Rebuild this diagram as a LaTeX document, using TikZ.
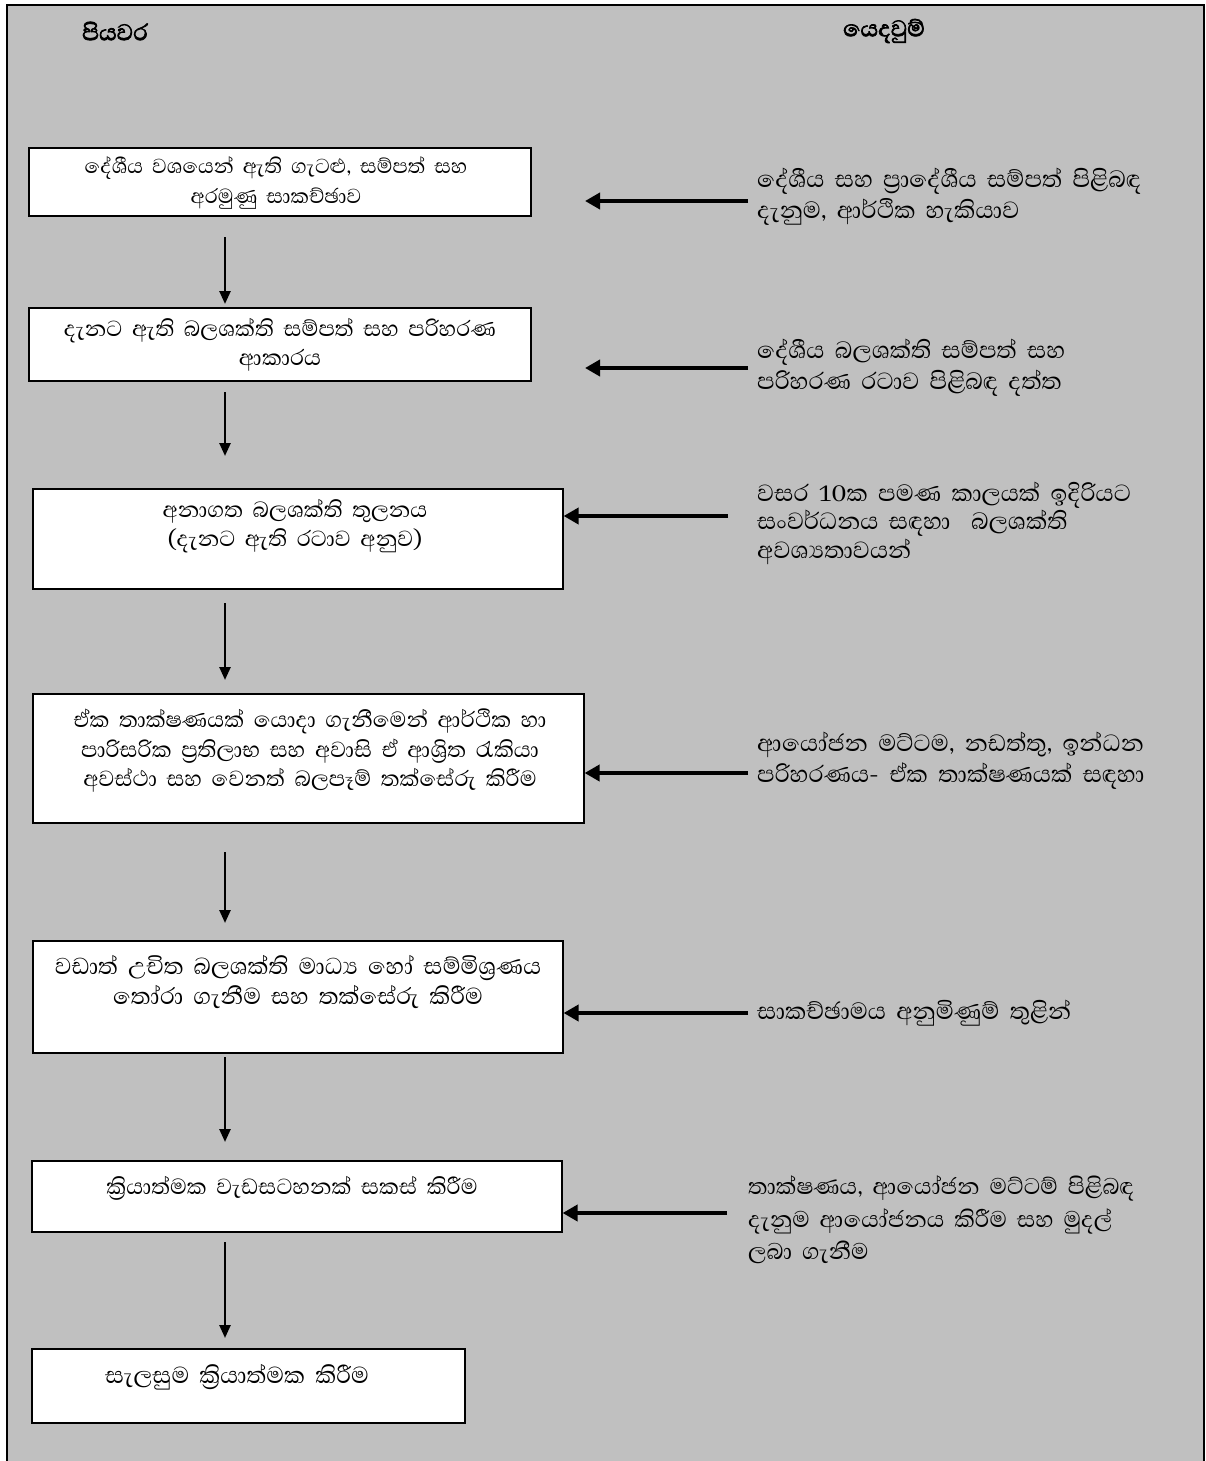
\documentclass[tikz,border=0pt]{standalone}
\usepackage{fontspec}
\usetikzlibrary{arrows.meta}
\newfontfamily\sinfont[Script=Sinhala,WordSpace=1.8]{Abhaya Libre}
\newfontfamily\sinhead[Script=Sinhala,FakeBold=2.5]{Abhaya Libre}
\definecolor{panelgray}{HTML}{C0C0C0}
\begin{document}
\begin{tikzpicture}[x=1pt,y=-1pt,
  panel/.style={draw=black,fill=panelgray,line width=2.5pt},
  stepbox/.style={draw=black,fill=white,line width=1.6pt,inner sep=0pt,anchor=north west},
  steptext/.style={font=\sinfont\fontsize{#1}{29.5}\selectfont,align=center,inner sep=0pt},
  inputtext/.style={font=\sinfont\fontsize{#1}{31}\selectfont,align=left,anchor=west,inner sep=0pt},
  headtext/.style={font=\sinhead\fontsize{29}{30}\selectfont,inner sep=0pt},
  flowarrow/.style={line width=2.5pt,-{Triangle[length=13pt,width=11pt]}},
  inarrow/.style={line width=4pt,-{Triangle[length=15pt,width=16pt]}}]
\useasboundingbox (0,0) rectangle (1205,1461);
\clip (0,0) rectangle (1205,1461);
\draw[panel] (7,5) rectangle (1204,1520);

% headings
\node[headtext] (h1) at (115,31) {පියවර};
\node[headtext] (h2) at (884,31) {යෙදවුම්};

% step boxes
\node[stepbox,minimum width=502pt,minimum height=68pt] (b1) at (28,147) {};
\node[stepbox,minimum width=502pt,minimum height=73pt] (b2) at (28,307) {};
\node[stepbox,minimum width=530pt,minimum height=100pt] (b3) at (32,488) {};
\node[stepbox,minimum width=551pt,minimum height=129pt] (b4) at (32,693) {};
\node[stepbox,minimum width=530pt,minimum height=112pt] (b5) at (32,940) {};
\node[stepbox,minimum width=530pt,minimum height=71pt] (b6) at (31,1160) {};
\node[stepbox,minimum width=433pt,minimum height=74pt] (b7) at (31,1348) {};

% step texts
\node[steptext=26] (t1) at (276,183) {දේශීය වශයෙන් ඇති ගැටළු, සම්පත් සහ\\අරමුණු සාකච්ඡාව};
\node[steptext=28] (t2) at (280,345) {දැනට ඇති බලශක්ති සම්පත් සහ පරිහරණ\\ආකාරය};
\node[steptext=28] (t3) at (295,526) {අනාගත බලශක්ති තුලනය\\(දැනට ඇති රටාව අනුව)};
\node[steptext=28] (t4) at (310,751) {ඒක තාක්ෂණයක් යොදා ගැනීමෙන් ආර්ථික හා\\පාරිසරික ප්‍රතිලාභ සහ අවාසි ඒ ආශ්‍රිත රැකියා\\අවස්ථා සහ වෙනත් බලපෑම් තක්සේරු කිරීම};
\node[steptext=29.5] (t5) at (298,982) {වඩාත් උචිත බලශක්ති මාධ්‍ය හෝ සම්මිශ්‍රණය\\තෝරා ගැනීම සහ තක්සේරු කිරීම};
\node[steptext=28] (t6) at (292,1188) {ක්‍රියාත්මක වැඩසටහනක් සකස් කිරීම};
\node[steptext=29.5] (t7) at (237,1377) {සැලසුම ක්‍රියාත්මක කිරීම};

% input texts
\node[inputtext=30] (r1) at (757,197) {දේශීය සහ ප්‍රාදේශීය සම්පත් පිළිබඳ\\දැනුම, ආර්ථික හැකියාව};
\node[inputtext=30] (r2) at (757,368) {දේශීය බලශක්ති සම්පත් සහ\\පරිහරණ රටාව පිළිබඳ දත්ත};
\node[inputtext=30,font=\sinfont\fontsize{30}{28.5}\selectfont] (r3) at (757,523) {වසර 10ක පමණ කාලයක් ඉදිරියට\\සංවර්ධනය සඳහා \ බලශක්ති\\අවශ්‍යතාවයන්};
\node[inputtext=30] (r4) at (757,761) {ආයෝජන මට්ටම, නඩත්තු, ඉන්ධන\\පරිහරණය- ඒක තාක්ෂණයක් සඳහා};
\node[inputtext=30] (r5) at (757,1013) {සාකච්ඡාමය අනුමිණුම් තුළින්};
\node[inputtext=29,font=\sinfont\fontsize{29}{32.5}\selectfont] (r6) at (748,1220) {තාක්ෂණය, ආයෝජන මට්ටම් පිළිබඳ\\දැනුම ආයෝජනය කිරීම සහ මුදල්\\ලබා ගැනීම};

% input arrows
\coordinate (i1s) at (748,201); \coordinate (i1e) at (585,201);
\coordinate (i2s) at (748,368); \coordinate (i2e) at (585,368);
\coordinate (i3s) at (728,516);
\coordinate (i4s) at (748,773);
\coordinate (i5s) at (748,1013);
\coordinate (i6s) at (727,1213);
\draw[inarrow] (i1s) -- (i1e);
\draw[inarrow] (i2s) -- (i2e);
\draw[inarrow] (i3s) -- (i3s -| b3.east);
\draw[inarrow] (i4s) -- (i4s -| b4.east);
\draw[inarrow] (i5s) -- (i5s -| b5.east);
\draw[inarrow] (i6s) -- (i6s -| b6.east);

% flow arrows
\coordinate (d1s) at (225,237); \coordinate (d1e) at (225,304);
\coordinate (d2s) at (225,392); \coordinate (d2e) at (225,456);
\coordinate (d3s) at (225,603); \coordinate (d3e) at (225,680);
\coordinate (d4s) at (225,852); \coordinate (d4e) at (225,923);
\coordinate (d5s) at (225,1057); \coordinate (d5e) at (225,1142);
\coordinate (d6s) at (225,1242); \coordinate (d6e) at (225,1338);
\draw[flowarrow] (d1s) -- (d1e);
\draw[flowarrow] (d2s) -- (d2e);
\draw[flowarrow] (d3s) -- (d3e);
\draw[flowarrow] (d4s) -- (d4e);
\draw[flowarrow] (d5s) -- (d5e);
\draw[flowarrow] (d6s) -- (d6e);
\end{tikzpicture}
\end{document}
